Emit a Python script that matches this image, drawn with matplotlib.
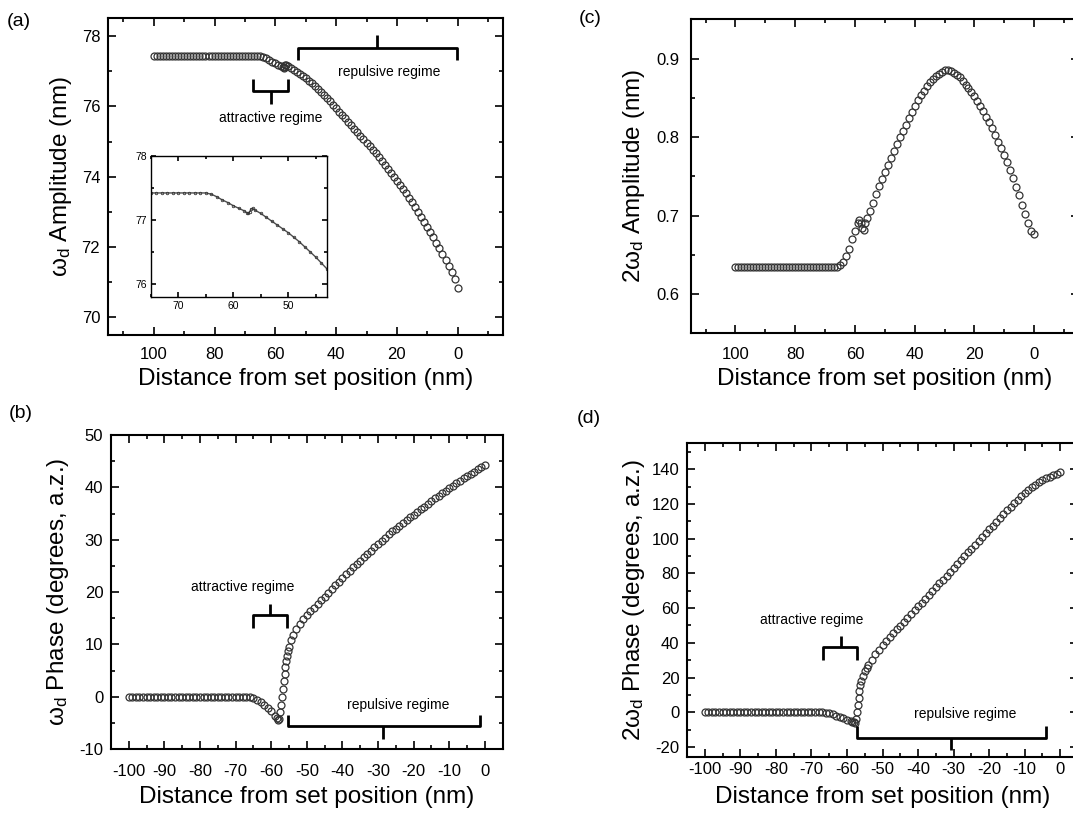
import matplotlib
matplotlib.use("Agg")
import matplotlib.pyplot as plt
from matplotlib.ticker import MultipleLocator

plt.rcParams["font.family"] = ["Liberation Sans", "DejaVu Sans"]
plt.rcParams["mathtext.fontset"] = "custom"
plt.rcParams["mathtext.rm"] = "Liberation Sans"
plt.rcParams["mathtext.it"] = "Liberation Sans:italic"
plt.rcParams["axes.unicode_minus"] = False

# (a) omega_d amplitude vs distance
amp1_x = list(range(100, 57, -1)) + [57.5, 57.25, 57, 56.75, 56.5, 56] + list(range(55, -1, -1))
amp1_y = [77.42, 77.42, 77.42, 77.42, 77.42, 77.42, 77.42, 77.42, 77.42, 77.42,
          77.42, 77.42, 77.42, 77.42, 77.42, 77.42, 77.42, 77.42, 77.42, 77.42,
          77.42, 77.42, 77.42, 77.42, 77.42, 77.42, 77.42, 77.42, 77.42, 77.42,
          77.42, 77.42, 77.42, 77.42, 77.42, 77.42,
          77.40, 77.36, 77.31, 77.27, 77.22, 77.18, 77.14,
          77.11, 77.10, 77.13, 77.17, 77.18, 77.15,
          77.10, 77.04, 76.98, 76.92, 76.86,
          76.80, 76.73, 76.66, 76.58, 76.50, 76.42, 76.33, 76.24, 76.14, 76.04,
          75.94, 75.85, 75.75, 75.66, 75.56, 75.46, 75.36, 75.26, 75.16, 75.06,
          74.96, 74.86, 74.76, 74.66, 74.55, 74.44, 74.33, 74.22, 74.11, 74.00,
          73.89, 73.77, 73.65, 73.53, 73.40, 73.27, 73.14, 73.00, 72.86, 72.72,
          72.58, 72.43, 72.28, 72.12, 71.96, 71.80, 71.63, 71.46, 71.28, 71.08,
          70.85]

# (c) 2omega_d amplitude vs distance
amp2_x = list(range(100, 58, -1)) + [58.5, 58, 57.5, 57, 56.5, 56] + list(range(55, -1, -1))
amp2_y = [0.634, 0.634, 0.634, 0.634, 0.634, 0.634, 0.634, 0.634, 0.634, 0.634,
          0.634, 0.634, 0.634, 0.634, 0.634, 0.634, 0.634, 0.634, 0.634, 0.634,
          0.634, 0.635, 0.635, 0.635, 0.635, 0.635, 0.635, 0.635, 0.635, 0.635,
          0.635, 0.635, 0.635, 0.635, 0.635,
          0.637, 0.641, 0.648, 0.658, 0.670, 0.681, 0.690,
          0.694, 0.690, 0.684, 0.682, 0.690, 0.697,
          0.706, 0.716, 0.727, 0.738, 0.747,
          0.756, 0.765, 0.774, 0.782, 0.791, 0.800, 0.808, 0.816, 0.824, 0.832,
          0.840, 0.847, 0.853, 0.859, 0.865, 0.870, 0.874, 0.878, 0.881, 0.883,
          0.885, 0.885, 0.884, 0.882, 0.879, 0.876, 0.872, 0.867, 0.862, 0.857,
          0.852, 0.846, 0.840, 0.833, 0.826, 0.819, 0.811, 0.803, 0.794, 0.786,
          0.777, 0.768, 0.758, 0.748, 0.737, 0.726, 0.714, 0.702, 0.690, 0.681,
          0.676]

# (b) omega_d phase vs distance
ph1_x = (list(range(-100, -58))
         + [-58.5, -58, -57.75, -57.5, -57.25, -57, -56.75, -56.5, -56.25, -56,
            -55.75, -55.5, -55.25, -55, -54.5]
         + list(range(-54, 1)))
ph1_y = [0.0, 0.0, 0.0, 0.0, 0.0, 0.0, 0.0, 0.0, 0.0, 0.0,
         0.0, 0.0, 0.0, 0.0, 0.0, 0.0, 0.0, 0.0, 0.0, 0.0,
         0.0, 0.0, 0.0, 0.0, 0.0, 0.0, 0.0, 0.0, 0.0, 0.0,
         0.0, 0.0, 0.0, 0.0,
         -0.1, -0.3, -0.6, -1.0, -1.5, -2.1, -2.8, -3.6,
         -4.1, -4.5, -4.2, -3.0, -1.5, 0.0, 1.5, 3.0, 4.4, 5.7,
         6.8, 7.8, 8.7, 9.5, 10.8,
         11.8, 13.0, 13.9, 14.8, 15.6,
         16.3, 17.0, 17.7, 18.4, 19.1, 19.8, 20.6, 21.3, 22.0, 22.7,
         23.4, 24.0, 24.7, 25.4, 26.0, 26.7, 27.3, 27.9, 28.6, 29.2,
         29.8, 30.4, 31.0, 31.6, 32.1, 32.7, 33.2, 33.8, 34.3, 34.8,
         35.3, 35.8, 36.3, 36.8, 37.3, 37.9, 38.4, 38.9, 39.4, 39.9,
         40.3, 40.8, 41.2, 41.7, 42.1, 42.6, 43.0, 43.5, 43.9, 44.3]

# (d) 2omega_d phase vs distance
ph2_x = (list(range(-100, -58))
         + [-58.5, -58, -57.75, -57.5, -57.25, -57, -56.75, -56.5, -56.25, -56,
            -55.5, -55, -54.5]
         + list(range(-54, 1)))
ph2_y = [0.0, 0.0, 0.0, 0.0, 0.0, 0.0, 0.0, 0.0, 0.0, 0.0,
         0.0, 0.0, 0.0, 0.0, 0.0, 0.0, 0.0, 0.0, 0.0, 0.0,
         0.0, 0.0, 0.0, 0.0, 0.0, 0.0, 0.0, 0.0, 0.0, 0.0,
         0.0, 0.0, 0.0, 0.0,
         -0.3, -0.7, -1.2, -1.9, -2.7, -3.5, -4.3, -5.1,
         -5.5, -5.9, -6.0, -4.0, 0.0, 4.0, 8.0, 12.0, 15.5, 18.0,
         21.0, 23.5, 25.5,
         27.0, 30.3, 33.3, 36.1, 38.8,
         41.0, 43.2, 45.4, 47.7, 49.9, 52.1, 54.3, 56.5, 58.8, 61.0,
         63.2, 65.4, 67.6, 69.9, 72.1, 74.3, 76.5, 78.7, 81.0, 83.2,
         85.4, 87.6, 89.8, 92.1, 94.3, 96.5, 98.7, 100.9, 103.2, 105.4,
         107.6, 109.8, 112.0, 114.2, 116.4, 118.5, 120.6, 122.6, 124.5, 126.3,
         128.0, 129.6, 131.1, 132.5, 133.7, 134.8, 135.8, 136.7, 137.5, 138.2]

XLABEL = "Distance from set position (nm)"


def style_axis(axis, xmajor, xminor, ymajor, yminor, xpad, ypad, size=12):
    axis.xaxis.set_major_locator(MultipleLocator(xmajor))
    axis.xaxis.set_minor_locator(MultipleLocator(xminor))
    axis.yaxis.set_major_locator(MultipleLocator(ymajor))
    axis.yaxis.set_minor_locator(MultipleLocator(yminor))
    axis.tick_params(which="both", direction="in", top=True, right=True, width=1.2)
    axis.tick_params(which="major", length=6)
    axis.tick_params(which="minor", length=3)
    axis.tick_params(axis="x", pad=xpad, labelsize=size)
    axis.tick_params(axis="y", pad=ypad, labelsize=size)
    for spine in axis.spines.values():
        spine.set_linewidth(1.5)


def scatter(axis, xs, ys, size=5.0):
    axis.plot(xs, ys, linestyle="none", marker="o", markersize=size,
              markerfacecolor="none", markeredgecolor="0.2", markeredgewidth=0.9)


def bracket(axis, x0, x1, y, tip, stem_x, stem_y):
    axis.plot([x0, x0, x1, x1], [tip, y, y, tip], color="black", linewidth=2, solid_capstyle="butt")
    axis.plot([stem_x, stem_x], [y, stem_y], color="black", linewidth=2, solid_capstyle="butt")


def labels(axis, ylabel, ylab_x, xlab_y):
    axis.set_xlabel(XLABEL, fontsize=17.5, va="top")
    axis.set_ylabel(ylabel, fontsize=17.5)
    axis.xaxis.set_label_coords(0.5, xlab_y)
    axis.yaxis.set_label_coords(ylab_x, 0.5)


figure = plt.figure(figsize=(10.73, 8.13), dpi=100)

# (a)
ax_a = figure.add_axes([0.1009, 0.5879, 0.3681, 0.3895])
scatter(ax_a, amp1_x, amp1_y)
ax_a.set_xlim(115, -15)
ax_a.set_ylim(69.5, 78.5)
style_axis(ax_a, 20, 10, 2, 1, 8.4, 5.8)
labels(ax_a, r"$\mathregular{\omega_d}$ Amplitude (nm)", -0.086, -0.104)
bracket(ax_a, 52.7, 0.1, 77.67, 77.32, 26.5, 78.03)
bracket(ax_a, 67.2, 55.7, 76.44, 76.77, 61.5, 76.08)
ax_a.text(22.7, 76.98, "repulsive regime", ha="center", va="center", fontsize=10)
ax_a.text(61.7, 75.66, "attractive regime", ha="center", va="center", fontsize=10)

inset = figure.add_axes([0.1407, 0.635, 0.1637, 0.1734])
inset.plot(amp1_x, amp1_y, color="0.3", linewidth=1.0, marker="o", markersize=1.8,
           markerfacecolor="none", markeredgecolor="0.2", markeredgewidth=0.6)
inset.set_xlim(75, 43)
inset.set_ylim(75.8, 78)
style_axis(inset, 10, 5, 1, 0.5, 3, 3, size=7.5)
inset.tick_params(which="major", length=3.5)
inset.tick_params(which="minor", length=2)
for spine in inset.spines.values():
    spine.set_linewidth(1.0)

# (c)
ax_c = figure.add_axes([0.6437, 0.590, 0.3619, 0.3862])
scatter(ax_c, amp2_x, amp2_y)
ax_c.set_xlim(115, -15)
ax_c.set_ylim(0.55, 0.95)
style_axis(ax_c, 20, 10, 0.1, 0.05, 9.5, 7.9)
labels(ax_c, r"2$\mathregular{\omega_d}$ Amplitude (nm)", -0.112, -0.111)

# (b)
ax_b = figure.add_axes([0.1034, 0.0787, 0.3651, 0.3862])
scatter(ax_b, ph1_x, ph1_y)
ax_b.set_xlim(-105, 5)
ax_b.set_ylim(-10, 50)
style_axis(ax_b, 10, 5, 10, 5, 10.5, 5.5)
labels(ax_b, r"$\mathregular{\omega_d}$ Phase (degrees, a.z.)", -0.103, -0.117)
bracket(ax_b, -65.2, -55.6, 15.6, 13.05, -60.4, 17.7)
bracket(ax_b, -55.2, -1.5, -5.6, -3.5, -28.5, -8.15)
ax_b.text(-67.9, 20.9, "attractive regime", ha="center", va="center", fontsize=10)
ax_b.text(-24.4, -1.6, "repulsive regime", ha="center", va="center", fontsize=10)

# (d)
ax_d = figure.add_axes([0.6403, 0.0685, 0.3644, 0.3862])
scatter(ax_d, ph2_x, ph2_y)
ax_d.set_xlim(-105, 5)
ax_d.set_ylim(-26, 155)
style_axis(ax_d, 10, 5, 20, 10, 3.2, 5.5)
labels(ax_d, r"2$\mathregular{\omega_d}$ Phase (degrees, a.z.)", -0.102, -0.092)
bracket(ax_d, -66.8, -57.1, 37.5, 30.3, -61.8, 43.7)
bracket(ax_d, -57.3, -3.9, -14.8, -7.7, -30.7, -21.9)
ax_d.text(-69.9, 53.3, "attractive regime", ha="center", va="center", fontsize=10)
ax_d.text(-26.8, -1.3, "repulsive regime", ha="center", va="center", fontsize=10)

for text, x, y in [("(a)", 7, 13), ("(c)", 579, 10), ("(b)", 9, 405), ("(d)", 577, 410)]:
    figure.text(x / 1073, 1 - y / 813, text, fontsize=14, ha="left", va="top")

figure.savefig("out.png", dpi=100)
plt.close(figure)
